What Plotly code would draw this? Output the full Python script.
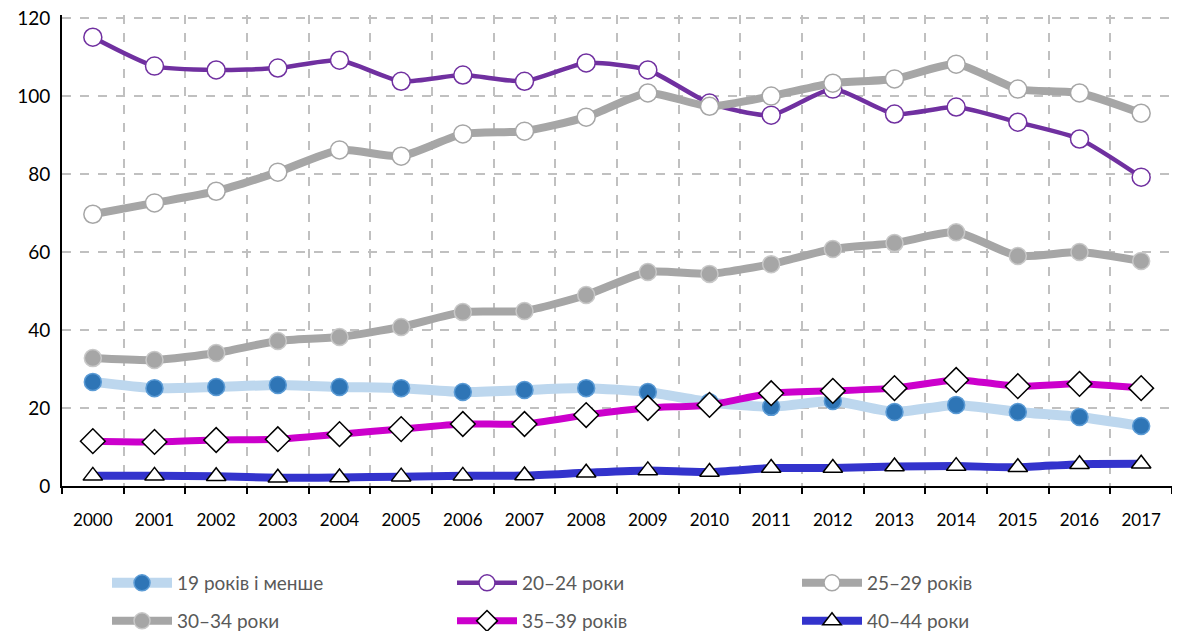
import plotly.graph_objects as go

years = [str(y) for y in range(2000, 2018)]

names = ["19 років і менше", "20–24 роки", "25–29 років",
         "30–34 роки", "35–39 років", "40–44 роки"]

age_19 = [26.7, 25.1, 25.4, 25.9, 25.4, 25.1, 24.1, 24.6, 25.1, 24.1,
          21.5, 20.3, 21.8, 19.0, 20.8, 19.0, 17.7, 15.4]
age_20_24 = [115.1, 107.7, 106.7, 107.2, 109.2, 103.8, 105.4, 103.8, 108.5, 106.7,
             98.2, 95.1, 101.8, 95.4, 97.2, 93.3, 89.0, 79.2]
age_25_29 = [69.7, 72.6, 75.6, 80.5, 86.2, 84.6, 90.3, 91.0, 94.6, 100.8,
             97.4, 100.0, 103.3, 104.4, 108.2, 101.8, 100.8, 95.6]
age_30_34 = [32.8, 32.3, 34.1, 37.2, 38.2, 40.8, 44.6, 44.9, 49.0, 54.9,
             54.4, 56.9, 60.8, 62.3, 65.1, 59.0, 60.0, 57.7]
age_35_39 = [11.5, 11.3, 11.8, 12.0, 13.3, 14.6, 15.9, 15.9, 18.2, 20.0,
             20.8, 23.8, 24.4, 25.1, 27.2, 25.6, 26.2, 25.1]
age_40_44 = [2.6, 2.6, 2.5, 2.1, 2.2, 2.4, 2.6, 2.7, 3.4, 4.0,
             3.6, 4.6, 4.6, 5.0, 5.1, 4.8, 5.6, 5.7]
y_ticks = [0, 20, 40, 60, 80, 100, 120]

FONT = "Lato, Calibri, sans-serif"
GRID = "#c0c0c0"

# сторінка має відступ 8 px, тому фігура менша за вікно
W, H = 1164, 623

# (values, line colour, line width, marker symbol, marker fill, marker border, size, legend)
styles = [
    (age_19, "#bdd7ee", 10, "circle", "#2e75b6", "#5b9bd5", 17, "legend"),
    (age_20_24, "#7030a0", 4.5, "circle", "white", "#7030a0", 18, "legend"),
    (age_25_29, "#a6a6a6", 8, "circle", "white", "#a6a6a6", 18, "legend"),
    (age_30_34, "#a6a6a6", 8, "circle", "#a6a6a6", "#c8c8c8", 17, "legend2"),
    (age_35_39, "#cc00cc", 7, "diamond", "white", "black", 19, "legend2"),
    (age_40_44, "#3333cc", 8, "triangle-up", "white", "black", 17, "legend2"),
]

fig = go.Figure()
for name, (vals, lc, lw, sym, fill, border, size, leg) in zip(names, styles):
    fig.add_trace(go.Scatter(
        x=years, y=vals, name=name, mode="lines+markers",
        line=dict(color=lc, width=lw, shape="spline", smoothing=0.6),
        marker=dict(symbol=sym, color=fill, size=size,
                    line=dict(color=border, width=1.5)),
        legend=leg))

# верхня лінія сітки (120) сама не малюється
fig.add_hline(y=y_ticks[-1], line=dict(color=GRID, width=1.5, dash="dash"),
              layer="below")

legend_common = dict(
    orientation="h", xref="container", yref="container",
    x=99 / W, yanchor="middle", entrywidth=270, entrywidthmode="pixels",
    font=dict(family=FONT, size=19, color="#595959"),
    bgcolor="rgba(0,0,0,0)", itemwidth=60,
)

fig.update_layout(
    width=W, height=H,
    paper_bgcolor="white", plot_bgcolor="white",
    margin=dict(l=54, r=0, t=7, b=145, autoexpand=False),
    font=dict(family=FONT, size=17, color="black"),
    legend=dict(**legend_common, y=1 - 575 / H),
    legend2=dict(**legend_common, y=1 - 613 / H),
)
fig.update_xaxes(
    type="category", tickson="boundaries", ticks="outside", ticklen=6,
    tickcolor="black", tickwidth=1.5,
    showline=True, linecolor="black", linewidth=2,
    showgrid=True, gridcolor=GRID, griddash="dash", gridwidth=1.5,
    ticklabelstandoff=18, tickfont=dict(family=FONT, size=17, color="black"),
    mirror=False, range=[-0.5, 17.5],
)
fig.update_yaxes(
    range=[0, 120.8], tickmode="array", tickvals=y_ticks,
    showline=True, linecolor="black", linewidth=2,
    showgrid=True, gridcolor=GRID, griddash="dash", gridwidth=1.5,
    zeroline=False, ticks="", ticklabelstandoff=6, ticklabeloverflow="allow",
    tickfont=dict(family=FONT, size=19, color="black"),
)

fig.write_html("out.html")
